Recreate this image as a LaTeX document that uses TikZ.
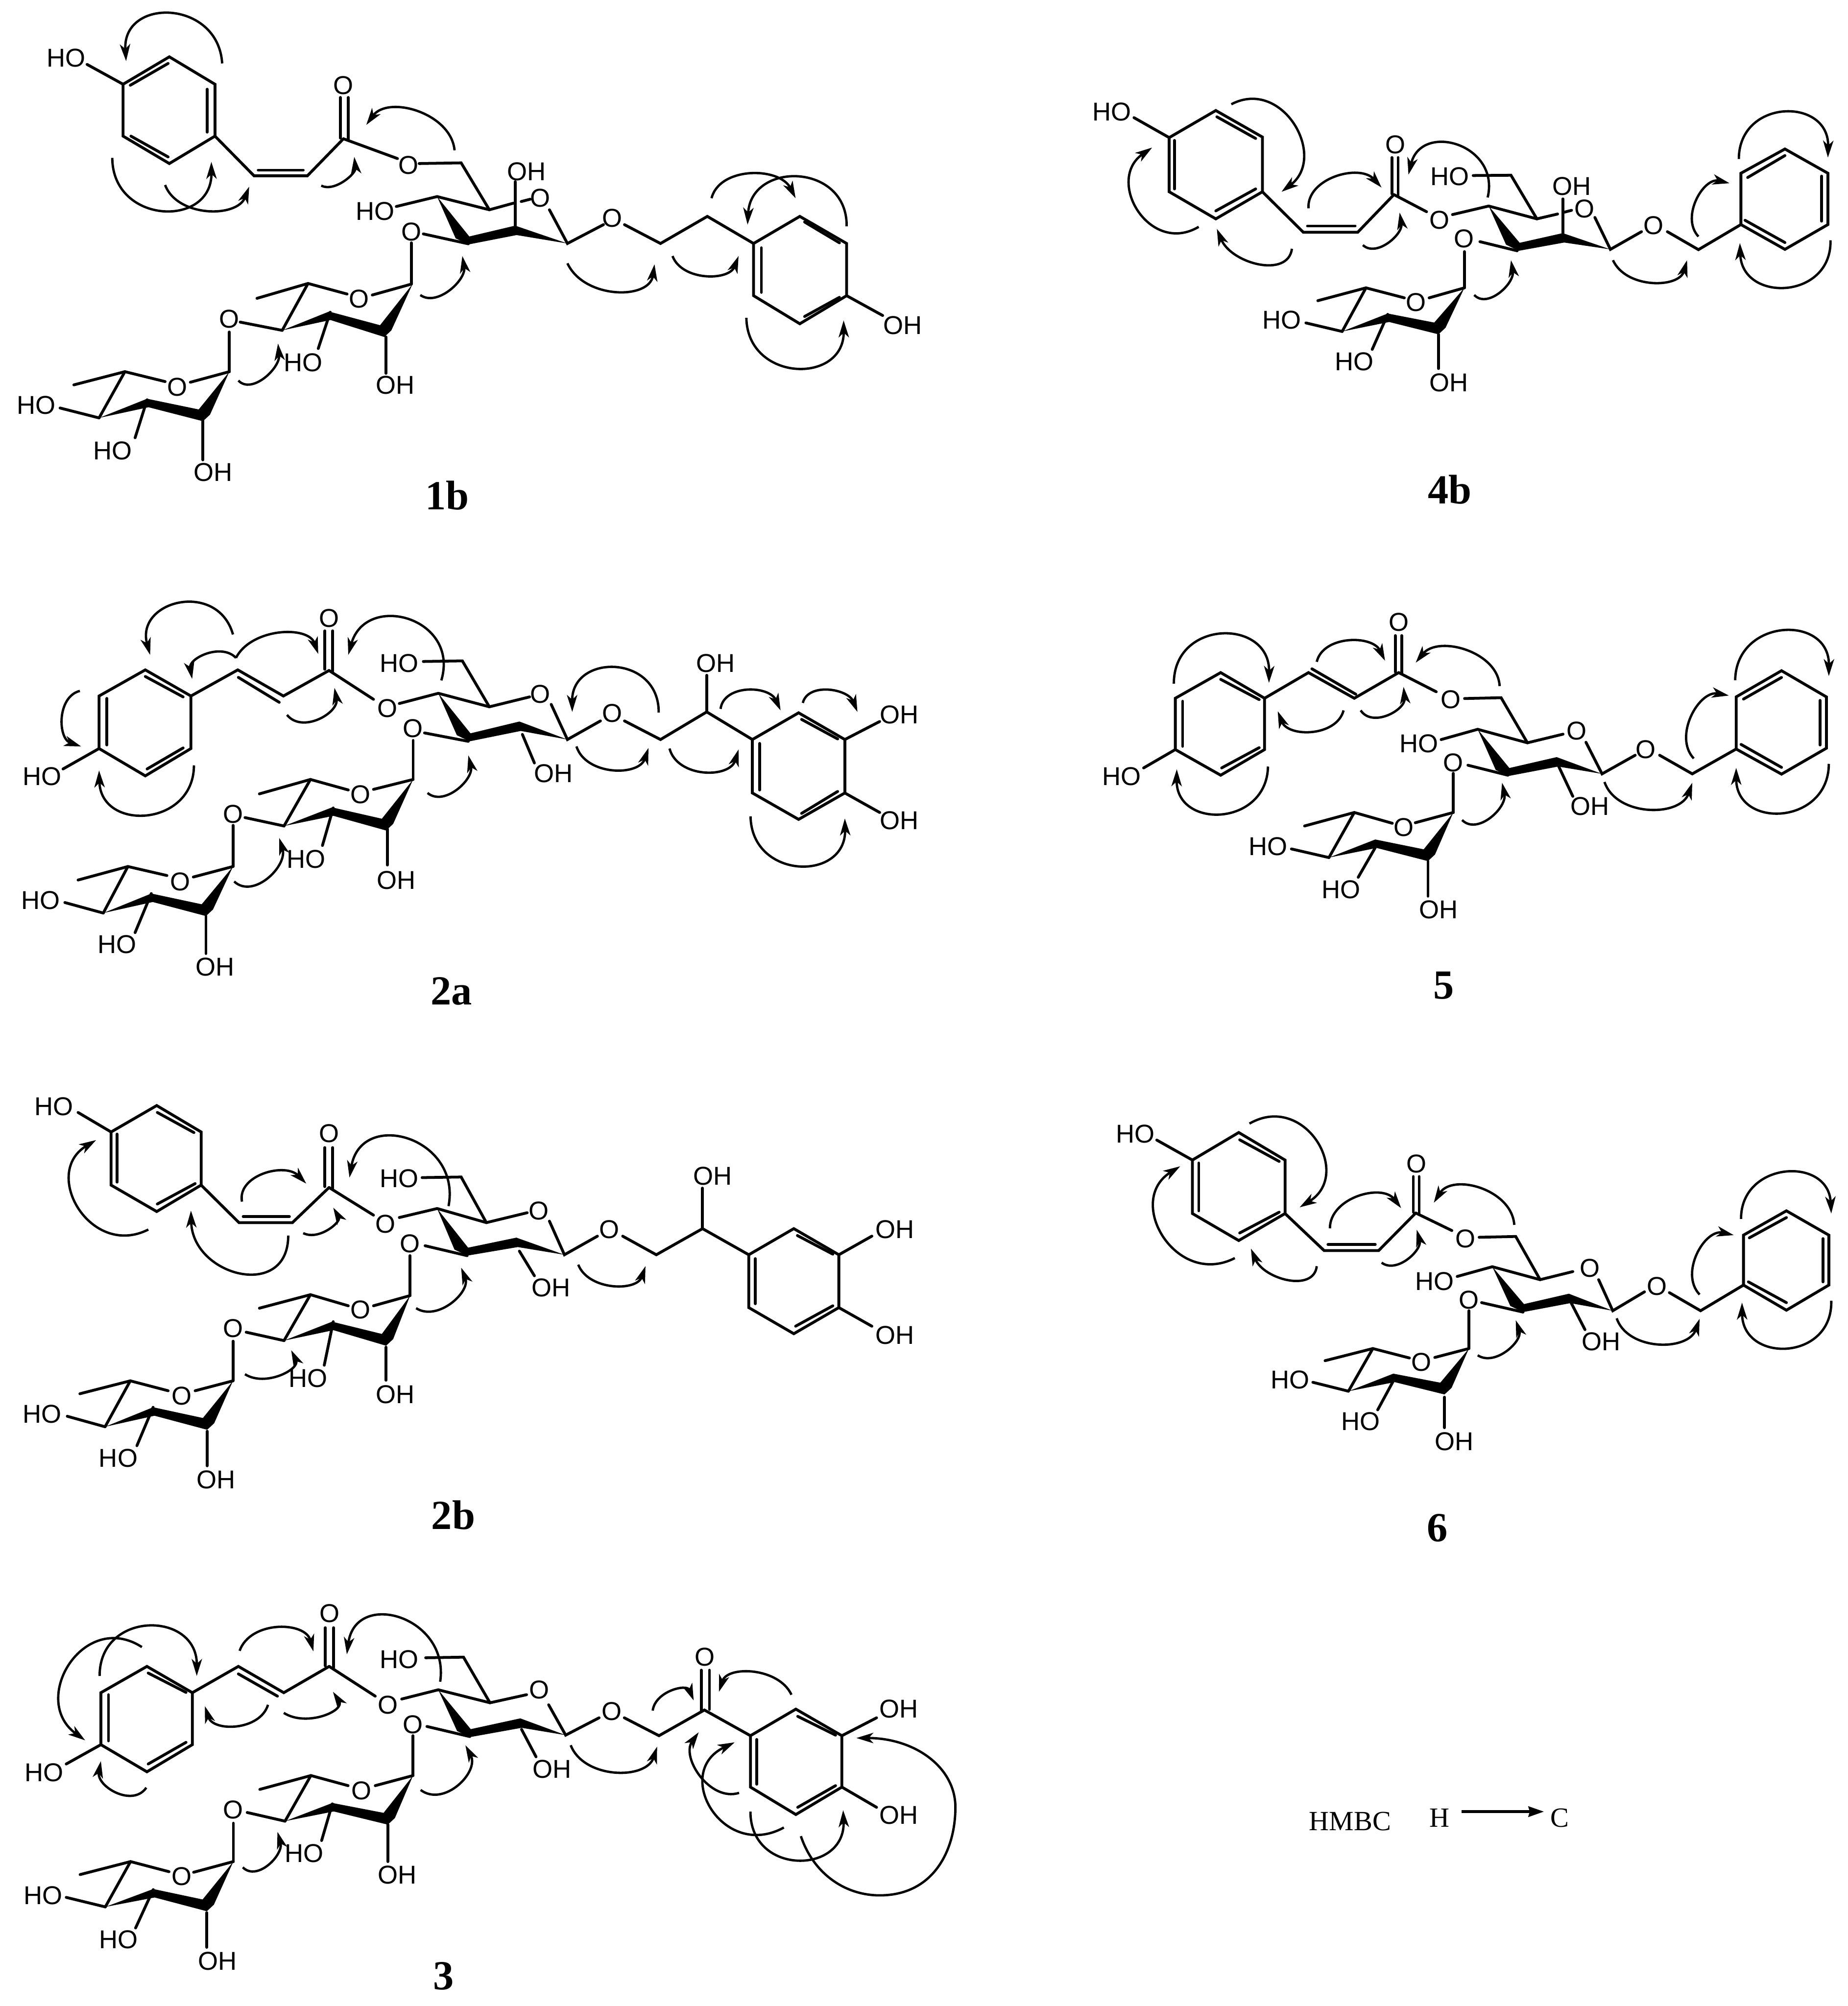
\documentclass[tikz,border=0pt]{standalone}
\usepackage{fontspec}
\setmainfont{Liberation Sans}
\newfontfamily\tms{Liberation Serif}
\usetikzlibrary{arrows.meta}
\newcounter{lb}
\tikzset{
 bd/.style={line width=.06cm,line join=miter,line cap=round},
 hm/.style={line width=.05cm,-{Stealth[length=.36cm,width=.22cm,inset=.1cm]}},
 atom/.style={inner sep=0pt,font=\fontsize{15.6pt}{16pt}\selectfont},
 captxt/.style={inner sep=0pt,font=\tms\bfseries\fontsize{25pt}{26pt}\selectfont},
 leg/.style={inner sep=0pt,font=\tms\fontsize{16.8pt}{17pt}\selectfont}
}
\newcommand{\atm}[2]{\stepcounter{lb}\node[atom] (t\arabic{lb}) at (#1) {#2};}
\newcommand{\ttl}[2]{\stepcounter{lb}\node[captxt] (t\arabic{lb}) at (#1) {#2};}
\newdimen\qa \newdimen\qb
% HMBC arrow: start, farthest point of the curve, end
\newcommand{\hmb}[3]{\coordinate (qS) at (#1);\coordinate (qM) at (#2);\coordinate (qE) at (#3);
 \pgfextractx{\qa}{\pgfpointanchor{qS}{center}}\pgfextracty{\qb}{\pgfpointanchor{qS}{center}}
 \pgfmathsetmacro\qsx{\qa}\pgfmathsetmacro\qsy{\qb}
 \pgfextractx{\qa}{\pgfpointanchor{qM}{center}}\pgfextracty{\qb}{\pgfpointanchor{qM}{center}}
 \pgfmathsetmacro\qmx{\qa}\pgfmathsetmacro\qmy{\qb}
 \pgfextractx{\qa}{\pgfpointanchor{qE}{center}}\pgfextracty{\qb}{\pgfpointanchor{qE}{center}}
 \pgfmathsetmacro\qex{\qa}\pgfmathsetmacro\qey{\qb}
 \pgfmathsetmacro\qcx{(\qex-\qsx)/2}\pgfmathsetmacro\qcy{(\qey-\qsy)/2}
 \pgfmathsetmacro\qhx{\qmx-(\qsx+\qex)/2}\pgfmathsetmacro\qhy{\qmy-(\qsy+\qey)/2}
 \pgfmathsetmacro\qlc{veclen(\qcx,\qcy)}\pgfmathsetmacro\qlh{veclen(\qhx,\qhy)}
 \pgfmathsetmacro\qmu{2/3*(1-\qlh/\qlc)}
 \pgfmathsetmacro\qax{\qsx+4/3*\qhx+\qmu*\qcx}\pgfmathsetmacro\qay{\qsy+4/3*\qhy+\qmu*\qcy}
 \pgfmathsetmacro\qbx{\qex+4/3*\qhx-\qmu*\qcx}\pgfmathsetmacro\qby{\qey+4/3*\qhy-\qmu*\qcy}
 \draw[hm] (\qsx pt,\qsy pt) .. controls (\qax pt,\qay pt) and (\qbx pt,\qby pt) .. (\qex pt,\qey pt);}
\def\D{\draw[bd]}
% C4, C3 lowest point, C2 top point, C1 tip
\newcommand{\front}[4]{\coordinate (p3) at (#2);\coordinate (p2) at (#3);
 \fill (#1) -- ([shift={(-.27cm,.13cm)}]p3) -- (p3) -- ([shift={(.03cm,-.2cm)}]p2) -- (#4) -- (p2) -- ([shift={(.02cm,.17cm)}]p3) -- cycle;}
% C4, C3 top point, C2 lowest point, C1 tip
\newcommand{\frontb}[4]{\coordinate (p3) at (#2);\coordinate (p2) at (#3);
 \fill (#1) -- (p3) -- ([shift={(-.09cm,.25cm)}]p2) -- (#4) -- ([shift={(.15cm,.14cm)}]p2) -- (p2) -- ([shift={(.03cm,-.18cm)}]p3) -- cycle;}
\begin{document}
\begin{tikzpicture}
\fill[white] (0,0) rectangle (39.25,-42.62);
\useasboundingbox (0,0) rectangle (39.25,-42.62);
% ---------------- 1b
\begin{scope}[x=.012755cm,y=-.0070153cm]
\atm{110,175}{HO}
\D (145,195)--(205,255);
\D (205,255)--(282,172)--(358,255)--(358,412)--(282,495)--(205,412)--cycle;
\D (217,258)--(280,192); \D (345,270)--(345,400); \D (218,412)--(280,475);
\D (358,412)--(423,532)--(512,532)--(572,420); \D (430,515)--(505,515);
\D (567,295)--(567,418); \D (580,295)--(580,424);
\atm{572,258}{O}
\D (572,420)--(662,480); \atm{680,500}{O}
\D (698,495)--(768,493)--(815,635);
\atm{877,520}{OH} \D (858,550)--(858,685);
\atm{900,600}{O} \D (728,595)--(815,635)--(855,615); \D (868,610)--(883,603);
\D (915,635)--(945,737)--(1005,680); \atm{1020,660}{O}
\D (1040,680)--(1100,737)--(1178,655)--(1255,737);
\D (1255,737)--(1332,655)--(1410,737)--(1410,895)--(1332,980)--(1255,895)--cycle;
\D (1340,672)--(1398,735); \D (1268,750)--(1268,885); \D (1340,958)--(1398,900);
\D (1410,895)--(1470,955); \atm{1503,985}{OH}
\atm{625,640}{HO} \D (660,625)--(728,595);
\atm{685,702}{O} \D (705,708)--(780,738);
\front{728,595}{780,740}{858,683}{945,737}
\D (685,735)--(685,860);
\D (685,860)--(620,893); \atm{598,905}{O} \D (578,890)--(513,858)--(428,903); \D (513,858)--(470,1000);
\atm{382,965}{O} \D (400,975)--(470,1000); \D (382,1005)--(382,1125);
\frontb{470,1000}{548,943}{640,1020}{687,860}
\atm{505,1098}{HO} \D (530,1055)--(550,945);
\atm{658,1165}{OH} \D (643,1020)--(643,1130);
\D (382,1125)--(317,1157); \atm{295,1172}{O} \D (275,1155)--(208,1125)--(123,1165); \D (208,1125)--(165,1265);
\frontb{165,1265}{245,1207}{338,1275}{382,1125}
\atm{60,1227}{HO} \D (100,1235)--(165,1265);
\atm{188,1365}{HO} \D (225,1325)--(245,1210);
\atm{355,1430}{OH} \D (338,1270)--(338,1392);
\hmb{370,192}{285,43}{210,185}
\hmb{187,478}{270,635}{352,490}
\hmb{275,560}{345,635}{415,565}
\hmb{535,562}{572,545}{590,475}
\hmb{757,455}{695,340}{610,378}
\hmb{700,893}{748,875}{770,775}
\hmb{945,797}{1025,880}{1090,800}
\hmb{1120,775}{1175,832}{1230,775}
\hmb{1185,600}{1250,528}{1325,600}
\hmb{1410,685}{1330,538}{1245,680}
\hmb{1243,962}{1325,1112}{1405,970}
\hmb{397,1152}{440,1140}{463,1040}
\ttl{745,1500}{1b}
\end{scope}
% ---------------- 4b
\begin{scope}[shift={(22,-1.5)},x=.011001cm,y=-.0060587cm]
\atm{147,145}{HO} \D (190,165)--(258,235);
\D (258,235)--(348,140)--(438,233)--(438,425)--(348,520)--(258,425)--cycle;
\D (350,162)--(425,238); \D (268,245)--(268,415); \D (348,492)--(425,415);
\D (438,425)--(517,567)--(622,567)--(692,435); \D (525,545)--(617,545);
\D (688,305)--(688,432); \D (700,305)--(700,438); \atm{695,260}{O}
\D (692,435)--(755,495); \atm{780,525}{O} \D (805,505)--(875,475);
\atm{800,372}{HO} \D (845,368)--(918,367)--(968,520);
\D (875,475)--(968,520)--(1008,503); \D (1020,497)--(1035,490); \atm{1060,485}{O}
\atm{1035,405}{OH} \D (1018,450)--(1018,570);
\D (1080,515)--(1110,627)--(1170,565); \atm{1193,543}{O}
\D (1220,565)--(1280,628)--(1362,540);
\D (1362,540)--(1362,360)--(1447,275)--(1530,360)--(1530,540)--(1447,627)--cycle;
\D (1375,375)--(1447,298); \D (1518,370)--(1518,528); \D (1370,525)--(1447,603);
\atm{827,590}{O} \D (858,600)--(930,632);
\front{875,475}{933,632}{1018,570}{1110,627}
\D (828,635)--(828,762);
\D (828,762)--(760,797); \atm{735,812}{O} \D (712,797)--(638,762)--(545,807); \D (638,762)--(592,915);
\atm{475,875}{HO} \D (522,885)--(592,915);
\atm{615,1020}{HO} \D (650,978)--(680,855);
\atm{798,1095}{OH} \D (778,925)--(778,1045);
\frontb{592,915}{680,852}{778,925}{828,762}
\hmb{378,118}{497,190}{475,425}
\hmb{315,548}{200,490}{225,270}
\hmb{495,625}{430,675}{350,555}
\hmb{527,483}{580,375}{668,410}
\hmb{632,612}{680,600}{703,498}
\hmb{873,445}{815,265}{720,365}
\hmb{847,787}{895,775}{918,665}
\hmb{1115,665}{1190,740}{1258,665}
\hmb{1280,582}{1278,455}{1340,395}
\hmb{1358,310}{1445,148}{1530,305}
\hmb{1535,595}{1450,757}{1360,605}
\ttl{800,1470}{4b}
\end{scope}
% ---------------- 2a
\begin{scope}[shift={(0,-12)},x=.012755cm,y=-.0063776cm]
\D (165,437)--(242,350)--(318,437)--(318,612)--(242,703)--(165,612)--cycle;
\D (242,372)--(305,440); \D (178,445)--(178,600); \D (245,680)--(305,610);
\atm{70,705}{HO} \D (105,680)--(165,612);
\D (318,437)--(396,350)--(472,437)--(548,352); \D (397,375)--(465,458);
\D (541,220)--(541,348); \D (554,220)--(554,355); \atm{548,178}{O}
\D (548,352)--(622,448); \atm{645,478}{O} \D (665,462)--(730,428);
\atm{665,328}{HO} \D (705,322)--(770,320)--(815,473);
\D (730,428)--(815,473)--(882,440); \atm{900,430}{O}
\D (918,465)--(945,582)--(1000,520); \atm{1020,495}{O}
\D (1040,520)--(1100,582)--(1177,490)--(1253,582);
\atm{1192,328}{OH} \D (1177,368)--(1177,490);
\D (1253,582)--(1330,493)--(1407,582)--(1407,760)--(1330,848)--(1253,760)--cycle;
\D (1335,515)--(1395,580); \D (1265,595)--(1265,750); \D (1335,828)--(1395,755);
\atm{1498,500}{OH} \D (1407,582)--(1465,522);
\atm{1498,852}{OH} \D (1407,760)--(1465,825);
\atm{688,545}{O} \D (707,560)--(780,588);
\front{730,428}{782,588}{865,522}{945,582}
\atm{922,695}{OH} \D (870,565)--(890,660);
\D (688,585)--(688,715);
\D (688,715)--(622,748); \atm{600,765}{O} \D (580,750)--(517,715)--(432,763); \D (517,715)--(473,870);
\atm{388,830}{O} \D (408,842)--(473,870); \D (388,868)--(388,1005);
\atm{510,980}{HO} \D (537,935)--(555,810);
\atm{660,1050}{OH} \D (645,880)--(645,1000);
\frontb{473,870}{553,808}{643,885}{688,715}
\D (388,1005)--(322,1040); \atm{300,1055}{O} \D (278,1035)--(213,1005)--(130,1050); \D (213,1005)--(172,1160);
\atm{68,1118}{HO} \D (108,1125)--(172,1160);
\atm{195,1265}{HO} \D (225,1225)--(252,1095);
\atm{358,1340}{OH} \D (343,1170)--(343,1295);
\frontb{172,1160}{252,1095}{343,1170}{388,1005}
\hmb{388,232}{300,130}{250,300}
\hmb{393,310}{465,230}{530,297}
\hmb{393,310}{345,300}{320,380}
\hmb{133,420}{105,510}{135,605}
\hmb{323,668}{245,830}{165,685}
\hmb{478,500}{530,510}{557,410}
\hmb{735,385}{680,185}{580,300}
\hmb{712,760}{760,745}{780,635}
\hmb{1097,492}{1025,345}{953,490}
\hmb{960,605}{1020,680}{1080,610}
\hmb{1115,612}{1172,687}{1230,615}
\hmb{1200,480}{1245,420}{1300,485}
\hmb{1337,460}{1380,420}{1428,490}
\hmb{1250,838}{1330,1000}{1407,845}
\hmb{390,1055}{445,1040}{465,910}
\ttl{752,1420}{2a}
\end{scope}
% ---------------- 2b
\begin{scope}[shift={(0,-22.5)},x=.012755cm,y=-.0063776cm]
\atm{90,158}{HO} \D (130,178)--(185,243);
\D (185,243)--(261,155)--(335,243)--(335,420)--(261,508)--(185,420)--cycle;
\D (262,178)--(323,245); \D (195,250)--(195,410); \D (262,483)--(325,415);
\D (335,420)--(398,545)--(487,545)--(548,428); \D (405,525)--(482,525);
\D (541,295)--(541,425); \D (554,295)--(554,431); \atm{548,248}{O}
\D (548,428)--(622,520); \atm{642,550}{O} \D (665,528)--(728,498);
\atm{665,398}{HO} \D (703,395)--(768,393)--(810,545);
\D (728,498)--(810,545)--(878,512); \atm{897,505}{O}
\D (915,540)--(940,652)--(995,590); \atm{1015,568}{O}
\D (1037,590)--(1093,652)--(1170,565)--(1247,652);
\atm{1187,390}{OH} \D (1170,430)--(1170,565);
\D (1247,652)--(1322,565)--(1397,652)--(1397,828)--(1322,915)--(1247,828)--cycle;
\D (1328,588)--(1387,650); \D (1258,665)--(1258,815); \D (1325,890)--(1387,822);
\atm{1490,568}{OH} \D (1397,652)--(1452,590);
\atm{1490,920}{OH} \D (1397,828)--(1452,890);
\atm{683,615}{O} \D (708,622)--(778,655);
\front{728,498}{778,655}{860,595}{940,652}
\atm{918,762}{OH} \D (865,640)--(890,722);
\D (683,655)--(683,788);
\D (683,788)--(622,822); \atm{600,835}{O} \D (580,822)--(517,785)--(432,830); \D (517,785)--(473,938);
\atm{388,897}{O} \D (410,910)--(473,938); \D (388,940)--(388,1072);
\atm{513,1063}{HO} \D (540,1020)--(555,875);
\atm{658,1118}{OH} \D (643,960)--(643,1070);
\frontb{473,938}{553,875}{643,955}{683,788}
\D (388,1072)--(325,1105); \atm{303,1122}{O} \D (280,1105)--(217,1072)--(133,1115); \D (217,1072)--(175,1225);
\atm{70,1182}{HO} \D (112,1190)--(175,1225);
\atm{197,1330}{HO} \D (228,1288)--(255,1160);
\atm{360,1402}{OH} \D (345,1240)--(345,1355);
\frontb{175,1225}{255,1160}{345,1235}{388,1072}
\hmb{247,568}{133,497}{160,270}
\hmb{480,588}{400,710}{318,505}
\hmb{403,475}{440,385}{510,415}
\hmb{505,580}{545,565}{555,495}
\hmb{747,490}{680,270}{582,395}
\hmb{693,830}{750,810}{768,695}
\hmb{963,685}{1020,752}{1075,690}
\hmb{408,1050}{465,1050}{485,970}
\ttl{755,1520}{2b}
\end{scope}
% ---------------- 3
\begin{scope}[shift={(0,-33)},x=.013393cm,y=-.0061352cm]
\D (160,483)--(233,392)--(305,483)--(305,663)--(233,757)--(160,663)--cycle;
\D (235,415)--(295,482); \D (172,490)--(172,650); \D (235,730)--(295,655);
\atm{70,760}{HO} \D (105,730)--(160,663);
\D (305,483)--(378,392)--(450,483)--(522,392); \D (378,418)--(440,495);
\D (516,258)--(516,390); \D (529,258)--(529,396); \atm{523,208}{O}
\D (522,392)--(595,495); \atm{615,525}{O} \D (637,505)--(695,473);
\atm{633,368}{HO} \D (675,362)--(735,360)--(777,518);
\D (695,473)--(777,518)--(835,490); \atm{855,473}{O}
\D (870,525)--(897,630)--(950,570); \atm{970,548}{O}
\D (990,570)--(1045,632)--(1117,543)--(1190,632);
\D (1112,405)--(1112,547); \D (1125,405)--(1125,541); \atm{1118,360}{O}
\D (1190,632)--(1262,540)--(1335,632)--(1335,810)--(1262,905)--(1190,810)--cycle;
\D (1265,565)--(1325,630); \D (1200,645)--(1200,800); \D (1265,880)--(1325,805);
\atm{1425,540}{OH} \D (1335,632)--(1390,570);
\atm{1425,908}{OH} \D (1335,810)--(1390,880);
\atm{655,593}{O} \D (677,600)--(745,635);
\front{695,473}{745,637}{825,572}{897,630}
\atm{875,748}{OH} \D (827,610)--(850,705);
\D (655,632)--(655,770);
\D (655,770)--(595,805); \atm{573,822}{O} \D (552,805)--(493,770)--(412,818); \D (493,770)--(452,928);
\atm{370,888}{O} \D (392,898)--(452,928); \D (370,935)--(370,1068);
\atm{482,1040}{HO} \D (510,995)--(527,868);
\atm{630,1115}{OH} \D (615,940)--(615,1068);
\frontb{452,928}{527,865}{615,940}{655,770}
\D (370,1068)--(307,1105); \atm{288,1120}{O} \D (268,1103)--(207,1068)--(127,1113); \D (207,1068)--(167,1225);
\atm{68,1185}{HO} \D (105,1192)--(167,1225);
\atm{188,1338}{HO} \D (215,1298)--(243,1165);
\atm{345,1412}{OH} \D (328,1245)--(328,1365);
\frontb{167,1225}{243,1163}{328,1240}{370,1068}
\hmb{225,325}{112,385}{135,648}
\hmb{158,425}{235,255}{312,425}
\hmb{425,525}{375,595}{325,530}
\hmb{450,553}{510,560}{528,480}
\hmb{380,338}{440,260}{497,340}
\hmb{232,812}{185,825}{160,720}
\hmb{698,445}{635,228}{550,350}
\hmb{667,820}{725,800}{738,665}
\hmb{905,665}{975,755}{1042,670}
\hmb{1035,545}{1065,480}{1100,510}
\hmb{1255,490}{1195,415}{1140,480}
\hmb{1172,830}{1112,770}{1108,620}
\hmb{1243,950}{1130,885}{1165,655}
\hmb{1190,895}{1265,1060}{1337,890}
\draw[hm] (1270,980) .. controls (1290,1110) and (1340,1185) .. (1395,1185) .. controls (1480,1185) and (1515,1030) .. (1515,880) .. controls (1515,740) and (1450,640) .. (1358,640);
\hmb{385,1088}{425,1075}{440,965}
\ttl{703,1465}{3}
\end{scope}
% ---------------- 5
\begin{scope}[shift={(23,-12.5)},x=.010364cm,y=-.0057398cm]
\D (190,407)--(283,312)--(373,407)--(373,597)--(283,692)--(190,597)--cycle;
\D (283,337)--(362,412); \D (205,418)--(205,585); \D (285,665)--(362,590);
\atm{80,697}{HO} \D (125,665)--(190,597);
\D (373,407)--(463,312)--(557,407)--(648,312); \D (470,298)--(560,392);
\D (641,175)--(641,310); \D (654,175)--(654,316); \atm{648,125}{O}
\D (648,312)--(725,383); \atm{755,412}{O} \D (783,408)--(858,405)--(912,572);
\D (810,522)--(912,572)--(985,540); \atm{690,575}{HO} \D (735,560)--(810,522);
\atm{1013,527}{O} \D (1032,570)--(1065,687)--(1133,618); \atm{1155,597}{O}
\D (1183,618)--(1250,687)--(1340,595);
\D (1340,595)--(1340,402)--(1433,305)--(1525,402)--(1525,592)--(1433,688)--cycle;
\D (1355,410)--(1433,330); \D (1512,415)--(1512,580); \D (1350,578)--(1433,663);
\atm{760,645}{O} \D (790,655)--(872,692);
\front{810,522}{873,695}{972,625}{1065,687}
\atm{1040,808}{OH} \D (975,655)--(1005,770);
\D (760,685)--(760,830);
\D (760,830)--(682,868); \atm{658,885}{O} \D (635,870)--(557,830)--(455,880); \D (557,830)--(505,997);
\atm{380,955}{HO} \D (428,965)--(505,997);
\atm{530,1115}{HO} \D (565,1070)--(600,960);
\atm{730,1190}{OH} \D (708,1010)--(708,1140);
\frontb{505,997}{600,930}{708,1010}{760,830}
\hmb{187,353}{285,172}{382,350}
\hmb{380,660}{285,832}{193,670}
\hmb{535,452}{470,527}{400,455}
\hmb{570,452}{625,465}{658,365}
\hmb{480,272}{545,197}{620,268}
\hmb{855,362}{785,232}{683,275}
\hmb{778,858}{835,845}{860,720}
\hmb{1070,717}{1160,815}{1250,720}
\hmb{1253,630}{1250,475}{1325,397}
\hmb{1338,340}{1435,160}{1530,325}
\hmb{1530,650}{1435,828}{1340,665}
\ttl{740,1470}{5}
\end{scope}
% ---------------- 6
\begin{scope}[shift={(23,-23)},x=.010364cm,y=-.0057398cm]
\atm{108,190}{HO} \D (152,213)--(225,287);
\D (225,287)--(320,185)--(415,287)--(415,485)--(320,585)--(225,485)--cycle;
\D (322,212)--(403,292); \D (238,298)--(238,475); \D (322,557)--(403,480);
\D (415,485)--(495,622)--(607,622)--(683,483); \D (503,600)--(600,600);
\D (678,348)--(678,480); \D (690,348)--(690,486); \atm{684,300}{O}
\D (683,483)--(757,548); \atm{785,578}{O} \D (813,573)--(888,570)--(938,730);
\D (840,682)--(938,730)--(1005,700); \atm{722,737}{HO} \D (768,718)--(840,682);
\atm{1040,688}{O} \D (1058,730)--(1087,845)--(1152,775); \atm{1178,755}{O}
\D (1203,778)--(1267,845)--(1355,750);
\D (1355,750)--(1355,565)--(1443,475)--(1530,565)--(1530,750)--(1443,843)--cycle;
\D (1367,575)--(1443,500); \D (1518,578)--(1518,738); \D (1365,738)--(1443,815);
\atm{792,805}{O} \D (818,815)--(903,850);
\front{840,682}{903,850}{997,782}{1087,845}
\atm{1063,960}{OH} \D (1000,810)--(1030,915);
\D (792,845)--(792,985);
\D (792,985)--(722,1018); \atm{695,1035}{O} \D (670,1020)--(595,985)--(497,1030); \D (595,985)--(545,1143);
\atm{425,1100}{HO} \D (472,1110)--(545,1143);
\atm{570,1255}{HO} \D (605,1212)--(637,1105);
\atm{762,1330}{OH} \D (742,1165)--(742,1278);
\frontb{545,1143}{637,1078}{742,1155}{792,985}
\hmb{342,152}{477,217}{445,462}
\hmb{312,650}{168,570}{200,310}
\hmb{480,680}{420,727}{345,615}
\hmb{507,540}{565,425}{653,465}
\hmb{613,667}{665,650}{685,545}
\hmb{885,527}{815,395}{720,445}
\hmb{810,1010}{868,990}{888,880}
\hmb{1095,873}{1180,965}{1265,875}
\hmb{1265,785}{1262,636}{1335,565}
\hmb{1350,505}{1440,335}{1535,485}
\hmb{1535,808}{1445,980}{1352,815}
\ttl{727,1650}{6}
\end{scope}
% ---------------- legend
\node[leg] (hmbc) at (28.68,-38.70) {HMBC};
\node[leg] (hh) at (30.58,-38.62) {H};
\node[leg] (cc) at (33.13,-38.62) {C};
\coordinate (la) at (31.05,-38.49);
\coordinate (lb) at (32.80,-38.49);
\draw[line width=.06cm,-{Stealth[length=.33cm,width=.22cm,inset=.03cm]}] (la) -- (lb);
\end{tikzpicture}
\end{document}
